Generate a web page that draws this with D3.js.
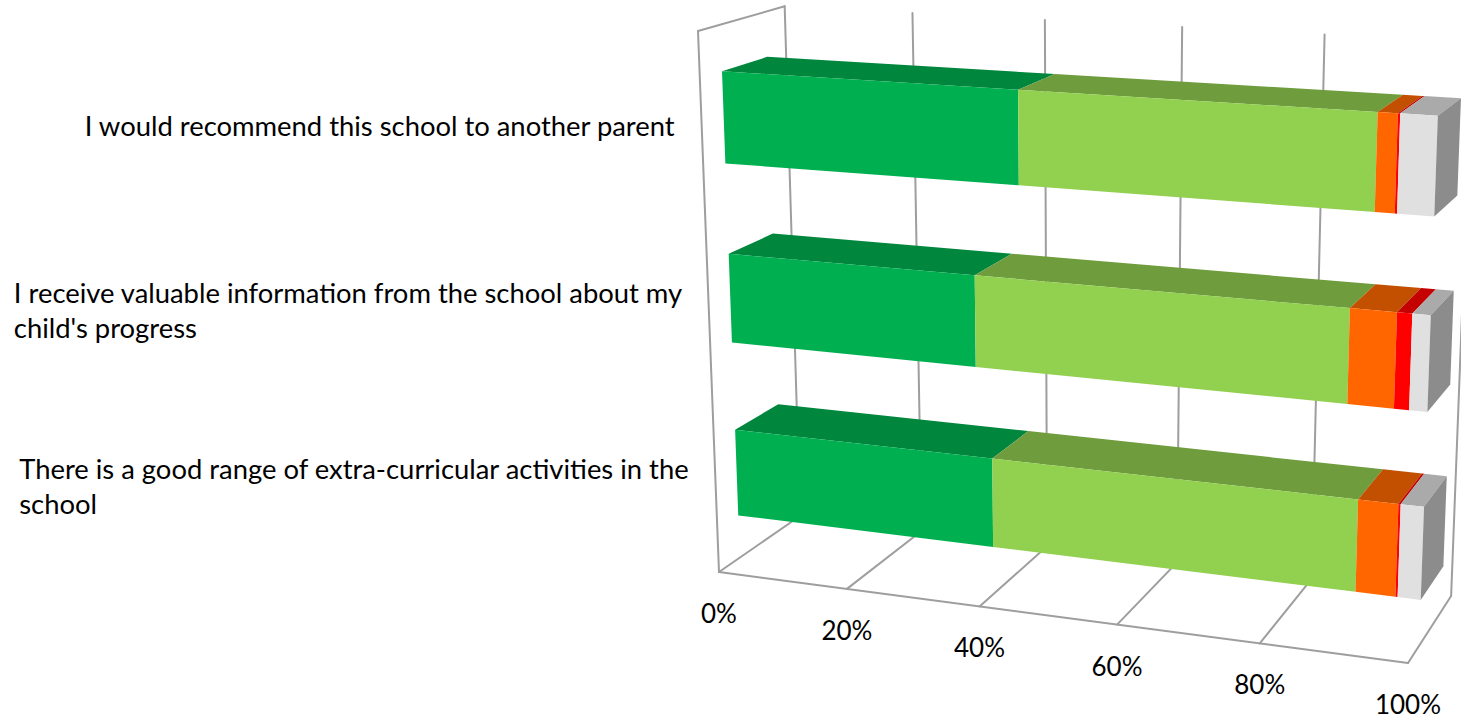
<!DOCTYPE html>
<html>
<head>
<meta charset="utf-8">
<title>Parent survey</title>
<script src="https://cdn.jsdelivr.net/npm/d3@7"></script>
<style>
  html, body { margin: 0; padding: 0; background: #fff; overflow: hidden; }
  svg { display: block; }
  text { font-family: Lato, "Open Sans", sans-serif; fill: #000; }
</style>
</head>
<body>
<svg id="chart" width="1461" height="722"></svg>
<script>
var categories = [
  "I would recommend this school to another parent",
  "I receive valuable information from the school about my child's progress",
  "There is a good range of extra-curricular activities in the school"
];
// share of answers per question (%), left to right
var band1 = [43.7, 37.2, 39.5];
var band2 = [48.6, 52.2, 51.7];
var band3 = [2.6, 6.2, 5.4];
var band4 = [0.3, 2.0, 0.3];
var band5 = [4.8, 2.4, 3.1];
var tickValues = [0, 20, 40, 60, 80, 100];

var frontColors = ["#00b050", "#92d050", "#ff6600", "#ff0000", "#e0e0e0"];
var topColors = ["#00863d", "#6f9c3d", "#c25000", "#c40000", "#aaaaaa"];
var sideColor = "#8c8c8c";
var gridColor = "#9e9e9e";

var svg = d3.select("#chart");

// box corners on screen + perspective weight per axis
var origin = [719, 572], xEnd = [1408, 663], yEnd = [698, 31], zEnd = [800, 516];
var wx = 0.912, wy = 0.946, wz = 1.064;

var valueScale = d3.scaleLinear().domain([0, 100]).range([0, 1]);
var rowScale = d3.scaleBand().domain(categories).range([1, 0]).paddingInner(0.5).paddingOuter(0.25);
var depthScale = d3.scaleLinear().domain([0, 1]).range([0.245, 0.77]); // bar depth in the box

function project(u, v, w) {
  var o = 1 - u - v - w;
  var d = o + wx * u + wy * v + wz * w;
  return [
    (o * origin[0] + wx * u * xEnd[0] + wy * v * yEnd[0] + wz * w * zEnd[0]) / d,
    (o * origin[1] + wx * u * xEnd[1] + wy * v * yEnd[1] + wz * w * zEnd[1]) / d
  ];
}

var poly = d3.line();

function drawLine(g, a, b) {
  var p = project.apply(null, a), q = project.apply(null, b);
  g.append("line")
    .attr("x1", p[0]).attr("y1", p[1])
    .attr("x2", q[0]).attr("y2", q[1])
    .attr("stroke", gridColor)
    .attr("stroke-width", 2)
    .attr("stroke-linecap", "round");
}

// walls and grid
var grid = svg.append("g").attr("class", "grid");
tickValues.forEach(function(t) {
  var u = valueScale(t);
  drawLine(grid, [u, 0, 1], [u, 1, 1]);
  drawLine(grid, [u, 0, 0], [u, 0, 1]);
});
drawLine(grid, [0, 0, 0], [1, 0, 0]);
drawLine(grid, [0, 0, 0], [0, 1, 0]);
drawLine(grid, [0, 1, 0], [0, 1, 1]);

// bars
var rows = categories.map(function(c, i) {
  return { name: c, a: band1[i], b: band2[i], c: band3[i], d: band4[i], e: band5[i] };
});
var keys = ["a", "b", "c", "d", "e"];
var stacked = d3.stack().keys(keys)(rows);

var bars = svg.append("g").attr("class", "bars");
stacked.forEach(function(layer, k) {
  layer.forEach(function(seg) {
    var name = seg.data.name;
    var u0 = valueScale(seg[0]), u1 = valueScale(seg[1]);
    var v0 = rowScale(name), v1 = v0 + rowScale.bandwidth();
    var w0 = depthScale(0), w1 = depthScale(1);
    bars.append("path")
      .attr("d", poly([project(u0, v1, w0), project(u1, v1, w0), project(u1, v1, w1), project(u0, v1, w1)]) + "Z")
      .attr("fill", topColors[k]);
    bars.append("path")
      .attr("d", poly([project(u0, v0, w0), project(u1, v0, w0), project(u1, v1, w0), project(u0, v1, w0)]) + "Z")
      .attr("fill", frontColors[k]);
    if (k === keys.length - 1) {
      bars.append("path")
        .attr("d", poly([project(u1, v0, w0), project(u1, v1, w0), project(u1, v1, w1), project(u1, v0, w1)]) + "Z")
        .attr("fill", sideColor);
    }
  });
});

// value axis labels, under the front floor edge
svg.append("g").selectAll("text")
  .data(tickValues)
  .enter()
  .append("text")
  .attr("x", function(t) { return project(valueScale(t), 0, 0)[0]; })
  .attr("y", function(t) { return project(valueScale(t), 0, 0)[1] + 51; })
  .attr("text-anchor", "middle")
  .style("font-size", "26px")
  .text(function(t) { return t + "%"; });

// question labels, wrapped and left aligned inside a block that ends next to the wall
var maxWidth = 680, lineHeight = 35;
categories.forEach(function(c) {
  var mid = rowScale(c) + rowScale.bandwidth() / 2;
  var anchor = project(0, mid, 0);
  var t = svg.append("text").style("font-size", "27.4px");
  var words = c.split(" "), lines = [], cur = "";
  words.forEach(function(w) {
    var test = cur ? cur + " " + w : w;
    t.text(test);
    if (t.node().getComputedTextLength() > maxWidth && cur) {
      lines.push(cur);
      cur = w;
    } else {
      cur = test;
    }
  });
  lines.push(cur);
  t.text(null);
  var spans = lines.map(function(l, i) {
    return t.append("tspan").attr("dy", i ? lineHeight : 0).text(l);
  });
  var blockWidth = d3.max(spans, function(s) { return s.node().getComputedTextLength(); });
  var left = anchor[0] - 27 - blockWidth;
  var top = anchor[1] + 11 - (lines.length - 1) * lineHeight / 2;
  t.attr("y", top);
  spans.forEach(function(s) { s.attr("x", left); });
  spans[0].attr("y", top).attr("dy", 0);
});
</script>
</body>
</html>
